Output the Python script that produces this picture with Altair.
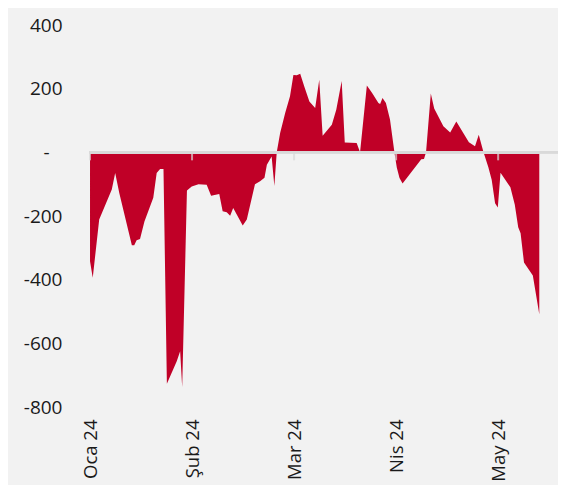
import altair as alt
import pandas as pd

# Trading-day index (30 units per month) and daily values
day = [0, 0.8, 2.7, 6.4, 7.4, 8.6, 12.3, 13.0, 13.7, 14.7, 16.0, 18.6, 19.6, 20.6,
       21.6, 22.6, 25.5, 26.5, 27.1, 28.5, 29.9, 31.9, 34.3, 35.6, 38.0, 39.0, 40.2,
       41.2, 42.1, 44.9, 46.1, 48.5, 50.0, 51.3, 52.0, 53.4, 54.2, 54.9, 55.9, 57.4,
       58.8, 59.8, 60.8, 61.8, 63.0, 64.5, 66.2, 67.4, 68.4, 71.1, 72.4, 74.0, 74.9,
       78.4, 79.4, 81.4, 82.9, 84.8, 85.3, 86.0, 87.0, 88.2, 89.5, 90.2, 91.0, 91.9,
       97.4, 98.2, 98.8, 100.2, 101.2, 103.9, 105.9, 107.7, 111.4, 113.2, 114.3,
       115.7, 117.1, 118.1, 119.1, 119.9, 120.7, 123.6, 124.9, 125.9, 126.6, 127.6,
       130.2, 132.1]
value = [-342, -394, -211, -117, -65, -128, -292, -292, -276, -272, -217, -143, -65,
         -52, -52, -727, -656, -625, -737, -120, -107, -100, -102, -136, -131, -185,
         -188, -199, -175, -230, -211, -100, -91, -80, -39, -13, -106, 0, 61, 124,
         176, 243, 242, 247, 207, 160, 139, 228, 52, 87, 134, 224, 31, 29, 0, 210,
         187, 155, 152, 171, 155, 103, 0, -48, -81, -98, -22, -21, 0, 185, 138, 82,
         62, 97, 32, 19, 55, 0, -46, -86, -160, -173, -64, -110, -165, -235, -254,
         -346, -387, -509]

month_pos = [0, 30, 60, 90, 120]
month_labels = ["Oca 24", "Şub 24", "Mar 24", "Nis 24", "May 24"]
y_ticks = [-800, -600, -400, -200, 0, 200, 400]

df = pd.DataFrame({"day": day, "value": value})
months = pd.DataFrame({"pos": month_pos, "label": month_labels})

FONT = "Open Sans"
label_expr = ""
for p, l in zip(month_pos, month_labels):
    label_expr += f"datum.value == {p} ? '{l}' : "
label_expr += "''"

x_scale = alt.Scale(domain=[-0.3, 137.6], nice=False, zero=False)
y_scale = alt.Scale(domain=[-800, 400], nice=False)

x_axis = alt.Axis(values=month_pos, labelExpr=label_expr,
                  labelAngle=-90, labelAlign="right", labelBaseline="middle",
                  labelPadding=12, domain=False, ticks=False, grid=False,
                  labelFont=FONT, labelFontSize=18.5, labelColor="#1a1a1a",
                  labelOverlap=False, labelBound=False, labelFlush=False)

area = alt.Chart(df).mark_area(color="#C00027", interpolate="linear").encode(
    x=alt.X("day:Q", scale=x_scale, title=None, axis=x_axis),
    y=alt.Y("value:Q", scale=y_scale, title=None,
            axis=alt.Axis(values=y_ticks,
                          labelExpr="datum.value == 0 ? '-' : '' + datum.value",
                          domain=False, ticks=False, grid=False,
                          labelPadding={"condition": {"test": "datum.value == 0", "value": 40},
                                        "value": 27},
                          labelFont=FONT, labelFontSize=19, labelColor="#1a1a1a")),
    y2=alt.datum(0),
)

zero_line = alt.Chart(df).mark_rule(color="#d9d9d9", strokeWidth=2).encode(
    y=alt.datum(0)
)

ticks = alt.Chart(months).mark_tick(orient="vertical", color="#d9d9d9", size=8,
                                     thickness=2, yOffset=4).encode(
    x=alt.X("pos:Q", scale=x_scale, title=None, axis=x_axis),
    y=alt.datum(0),
)

chart = alt.layer(area, zero_line, ticks).properties(
    width=469, height=382,
    background="#F2F2F2",
    padding={"left": 81, "top": 17, "right": 0, "bottom": 78},
    autosize=alt.AutoSizeParams(type="none"),
).configure_view(stroke=None)

chart.save("out.html", embed_options={"renderer": "svg", "actions": False})
